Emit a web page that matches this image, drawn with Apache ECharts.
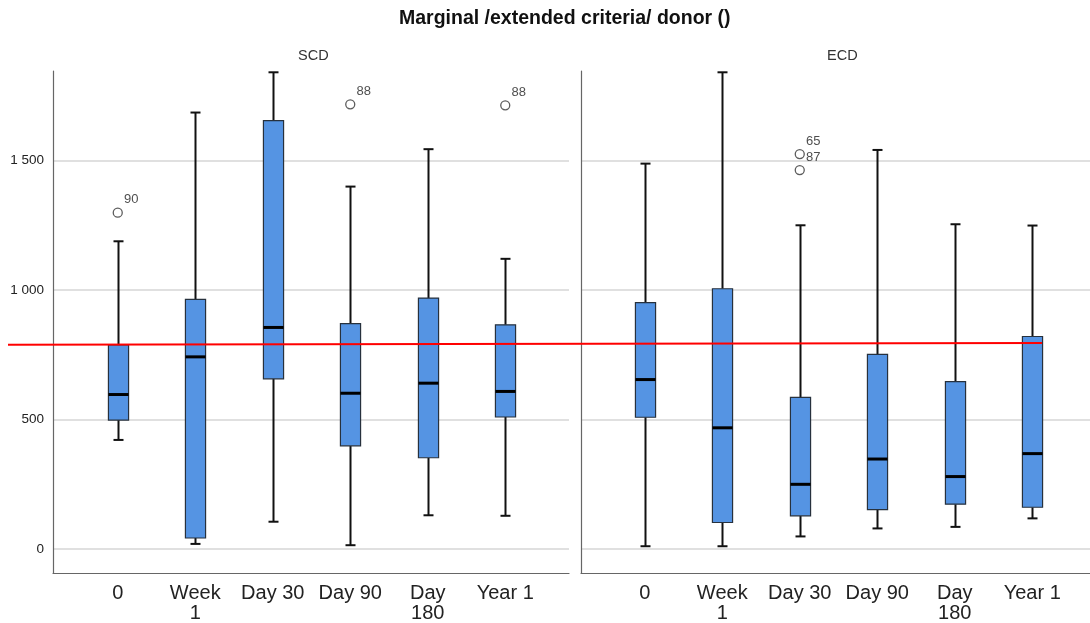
<!DOCTYPE html>
<html>
<head>
<meta charset="utf-8">
<script src="https://cdn.jsdelivr.net/npm/echarts@6/dist/echarts.min.js"></script>
<style>
html,body{margin:0;padding:0;background:#fff;}
#chart{width:1090px;height:623px;}
</style>
</head>
<body>
<div id="chart"></div>
<script>
// ---- data ----
var categories = ['0', 'Week\n1', 'Day 30', 'Day 90', 'Day\n180', 'Year 1'];
var yTicks = [0, 500, 1000, 1500];
// [min, q1, median, q3, max] per category
var scdBoxes = [
  [415, 492, 591, 783, 1185],
  [12, 35, 737, 960, 1684],
  [98, 652, 851, 1653, 1840],
  [7, 392, 596, 866, 1397],
  [123, 346, 635, 965, 1542],
  [121, 504, 603, 861, 1117]
];
var ecdBoxes = [
  [3, 503, 649, 947, 1486],
  [3, 95, 462, 1001, 1840],
  [41, 121, 243, 580, 1247],
  [72, 145, 341, 747, 1539],
  [78, 166, 273, 641, 1251],
  [111, 154, 362, 816, 1246]
];
var scdOutlierCat = [0, 3, 5];
var scdOutlierVal = [1296, 1716, 1712];
var scdOutlierId = ['90', '88', '88'];
var ecdOutlierCat = [2, 2];
var ecdOutlierVal = [1523, 1461];
var ecdOutlierId = ['65', '87'];
var refLineVals = [788, 795];

var Y_MIN = -93, Y_MAX = 1845;
var FONT = '"Liberation Sans", Arial, sans-serif';

function fmt(v) {
  var s = String(Math.round(v));
  return s.replace(/\B(?=(\d{3})+(?!\d))/g, ' ');
}

function renderBox(params, api) {
  var x = api.value(0);
  var lo = api.coord([x, api.value(1)]);
  var q1 = api.coord([x, api.value(2)]);
  var md = api.coord([x, api.value(3)]);
  var q3 = api.coord([x, api.value(4)]);
  var hi = api.coord([x, api.value(5)]);
  var bw = api.size([1, 0])[0] * 0.26;
  var cw = 10;
  var cx = Math.round(lo[0]) + 0.5;
  var wStyle = {stroke: '#111', lineWidth: 2};
  return {
    type: 'group',
    children: [
      {type: 'line', shape: {x1: cx, y1: hi[1], x2: cx, y2: q3[1]}, style: wStyle},
      {type: 'line', shape: {x1: cx, y1: q1[1], x2: cx, y2: lo[1]}, style: wStyle},
      {type: 'line', shape: {x1: cx - cw / 2, y1: hi[1], x2: cx + cw / 2, y2: hi[1]}, style: wStyle},
      {type: 'line', shape: {x1: cx - cw / 2, y1: lo[1], x2: cx + cw / 2, y2: lo[1]}, style: wStyle},
      {type: 'rect', shape: {x: cx - bw / 2, y: q3[1], width: bw, height: q1[1] - q3[1]},
        style: {fill: '#5594e3', stroke: '#27313d', lineWidth: 1.2}},
      {type: 'line', shape: {x1: cx - bw / 2, y1: md[1], x2: cx + bw / 2, y2: md[1]},
        style: {stroke: '#000', lineWidth: 3}}
    ]
  };
}

function boxData(boxes) {
  return boxes.map(function (b, i) { return [i].concat(b); });
}
function outlierData(cats, vals, ids) {
  return cats.map(function (c, i) { return {value: [c, vals[i]], name: ids[i]}; });
}

var frameY = function (gi, showLabels) {
  return {
    type: 'value', gridIndex: gi, min: Y_MIN, max: Y_MAX,
    splitNumber: 4, minInterval: 500, maxInterval: 500,
    axisLine: {show: true, lineStyle: {color: '#666', width: 1.2}},
    axisTick: {show: false},
    axisLabel: {show: showLabels, showMinLabel: false, showMaxLabel: false,
      color: '#222', fontSize: 13.5, fontFamily: FONT, margin: 9, formatter: fmt},
    splitLine: {show: true, showMinLine: false, showMaxLine: false,
      lineStyle: {color: '#d6d6d6', width: 1.5}}
  };
};
var frameX = function (gi) {
  return {
    type: 'value', gridIndex: gi, min: 0, max: 1,
    axisLine: {show: true, onZero: false, lineStyle: {color: '#666', width: 1.2}},
    axisTick: {show: false}, axisLabel: {show: false}, splitLine: {show: false}
  };
};
var dataX = function (gi) {
  return {
    type: 'category', gridIndex: gi, data: categories, boundaryGap: true,
    axisLine: {show: false}, axisTick: {show: false}, splitLine: {show: false},
    axisLabel: {color: '#222', fontSize: 20, lineHeight: 20, fontFamily: FONT, margin: 12, interval: 0}
  };
};
var hiddenY = function (gi) {
  return {type: 'value', gridIndex: gi, min: Y_MIN, max: Y_MAX, show: false, splitLine: {show: false}};
};

var outlierSeries = function (gi, data) {
  return {
    type: 'scatter', xAxisIndex: gi, yAxisIndex: gi, data: data,
    symbol: 'circle', symbolSize: 9,
    itemStyle: {color: '#fff', borderColor: '#333', borderWidth: 1.3},
    label: {show: true, position: 'right', distance: 1, offset: [0, -13],
      formatter: '{b}', color: '#222', fontSize: 13, fontFamily: FONT},
    silent: true, z: 5
  };
};

var option = {
  backgroundColor: '#fff',
  animation: false,
  title: [
    {text: 'Marginal /extended criteria/ donor ()', left: 399, top: 9, padding: 0,
      textStyle: {fontSize: 19.5, fontWeight: 'bold', color: '#111', fontFamily: FONT}},
    {text: 'SCD', left: 298, top: 48, padding: 0, textStyle: {fontSize: 14.5, fontWeight: 'normal', color: '#333', fontFamily: FONT}},
    {text: 'ECD', left: 827, top: 48, padding: 0, textStyle: {fontSize: 14.5, fontWeight: 'normal', color: '#333', fontFamily: FONT}}
  ],
  grid: [
    {left: 53, top: 71, width: 516, height: 502},
    {left: 581, top: 71, width: 511, height: 502},
    {left: 79, top: 71, width: 465, height: 502},
    {left: 606, top: 71, width: 465, height: 502},
    {left: 8, top: 71, width: 1034, height: 502}
  ],
  xAxis: [
    frameX(0), frameX(1), dataX(2), dataX(3),
    {type: 'value', gridIndex: 4, min: 0, max: 1, show: false, splitLine: {show: false}}
  ],
  yAxis: [
    frameY(0, true), frameY(1, false), hiddenY(2), hiddenY(3), hiddenY(4)
  ],
  series: [
    {type: 'custom', name: 'SCD', xAxisIndex: 2, yAxisIndex: 2, renderItem: renderBox,
      data: boxData(scdBoxes), encode: {x: 0, y: [1, 2, 3, 4, 5]}, z: 3, clip: false},
    {type: 'custom', name: 'ECD', xAxisIndex: 3, yAxisIndex: 3, renderItem: renderBox,
      data: boxData(ecdBoxes), encode: {x: 0, y: [1, 2, 3, 4, 5]}, z: 3, clip: false},
    outlierSeries(2, outlierData(scdOutlierCat, scdOutlierVal, scdOutlierId)),
    outlierSeries(3, outlierData(ecdOutlierCat, ecdOutlierVal, ecdOutlierId)),
    {type: 'line', xAxisIndex: 4, yAxisIndex: 4, data: [[0, refLineVals[0]], [1, refLineVals[1]]],
      symbol: 'none', lineStyle: {color: '#ff0000', width: 2}, z: 10, silent: true}
  ]
};

var chart = echarts.init(document.getElementById('chart'), null, {renderer: 'canvas'});
chart.setOption(option);
</script>
</body>
</html>
